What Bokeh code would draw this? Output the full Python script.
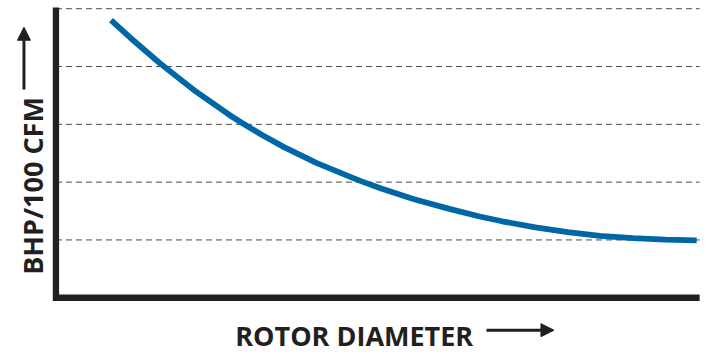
import math
from bokeh.plotting import figure
from bokeh.models import Range1d, Label, Arrow, NormalHead
from bokeh.embed import file_html
from bokeh.resources import INLINE

# ---- data ----
rotor_diameter = [0.855, 1.159, 1.615, 2.177, 2.678, 2.891, 3.195, 3.544, 4.045, 4.562, 4.759,
                  5.063, 5.564, 6.081, 6.582, 6.931, 7.448, 7.949, 8.450, 8.967, 9.468, 9.954]
bhp_per_100cfm = [4.803, 4.494, 4.056, 3.565, 3.175, 3.022, 2.819, 2.606, 2.333, 2.095, 2.009,
                  1.885, 1.703, 1.546, 1.405, 1.323, 1.219, 1.136, 1.070, 1.030, 1.004, 0.992]
grid_levels = [1, 2, 3, 4, 5]
x_axis_max = 10
y_axis_max = 5.02
x_label = "ROTOR DIAMETER"
y_label = "BHP/100 CFM"

# ---- layout ----
REF_W, REF_H = 722, 362
W, H = 706, 346
KX, KY = W / REF_W, H / REF_H
X0_PX, X_SCALE = 56.7, 65.83   # reference px of x=0, px per unit
Y0_PX, Y_SCALE = 311.0, 60.48  # reference px of y=0, px per unit

x_start = (0 - X0_PX) / X_SCALE
x_end = (REF_W - X0_PX) / X_SCALE
y_end = (Y0_PX - 0) / Y_SCALE
y_start = (Y0_PX - REF_H) / Y_SCALE

INK = "#231f20"
BLUE = "#0067a6"

p = figure(width=W, height=H, output_backend="svg", toolbar_location=None,
           x_axis_type=None, y_axis_type=None,
           x_range=Range1d(x_start, x_end), y_range=Range1d(y_start, y_end),
           min_border=0, min_border_left=0, min_border_right=0,
           min_border_top=0, min_border_bottom=0)
p.outline_line_color = None
p.grid.visible = False
p.background_fill_color = "white"
p.border_fill_color = "white"

# dashed grid lines
p.segment(x0=[0] * len(grid_levels), y0=grid_levels,
          x1=[x_axis_max] * len(grid_levels), y1=grid_levels,
          line_color="#4a4a4a", line_width=1, line_dash="6 4")

# axis lines (L shape)
p.line(x=[0, 0, x_axis_max], y=[y_axis_max, 0, 0], line_color=INK,
       line_width=6.3, line_join="miter", line_cap="butt")

# curve
p.line(x=rotor_diameter, y=bhp_per_100cfm, line_color=BLUE, line_width=5.8,
       line_join="round", line_cap="butt")

def sx(px):
    return px * KX

def sy(py):
    return (REF_H - py) * KY

FONT = "Open Sans"
FS = "27px"
LIFT = 2

p.add_layout(Label(x=sx(240), y=sy(353) + LIFT, x_units="screen", y_units="screen",
                   text=x_label, text_font=FONT, text_font_size=FS,
                   text_font_style="bold", text_color=INK,
                   text_align="left", text_baseline="alphabetic"))

p.add_layout(Label(x=sx(33), y=sy(287), x_units="screen", y_units="screen",
                   text=y_label, text_font=FONT, text_font_size=FS,
                   text_font_style="bold", text_color=INK, angle=math.pi / 2,
                   text_align="left", text_baseline="alphabetic"))

p.add_layout(Arrow(x_start=sx(497), y_start=sy(347) + LIFT, x_end=sx(566), y_end=sy(347) + LIFT,
                   start_units="screen", end_units="screen",
                   line_color=INK, line_width=3,
                   end=NormalHead(size=13, fill_color=INK, line_color=INK, line_width=1)))

p.add_layout(Arrow(x_start=sx(24), y_start=sy(93), x_end=sx(24), y_end=sy(28),
                   start_units="screen", end_units="screen",
                   line_color=INK, line_width=3,
                   end=NormalHead(size=13, fill_color=INK, line_color=INK, line_width=1)))

open("out.html", "w").write(file_html(p, INLINE))
